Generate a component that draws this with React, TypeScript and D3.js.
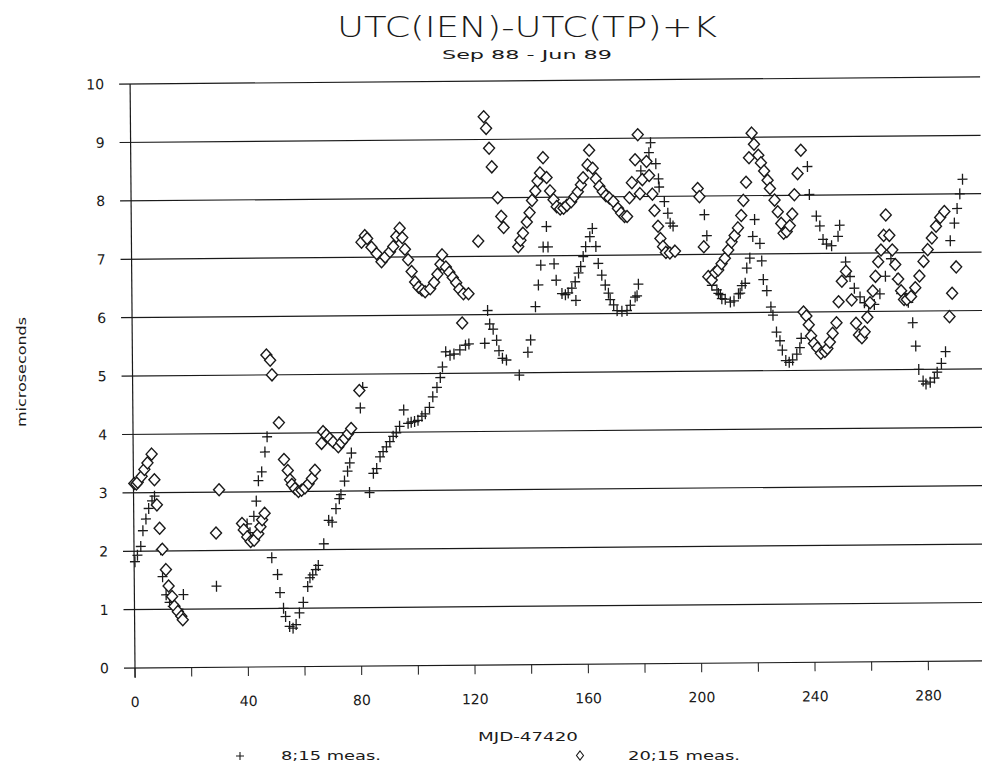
import React from 'react';
import { scaleLinear, range } from 'd3';

// 8:15 measurements (plus markers): day offset from MJD 47420, microseconds
const plusDays = [
  0.3, 1.2, 2.4, 3.2, 4.3, 5.3, 6.5, 7.4, 9.4, 10, 11.2, 12.4, 13.5, 14.5, 15.5, 17.3,
  29, 40, 41, 42, 42.4, 43.3, 44.1, 45.3, 46.5, 47.3,
  48.6, 50.6, 51.4, 52.6, 53.3, 54.7, 55.9, 57, 58.2, 59.6, 61.2, 62, 63, 64.1, 65,
  67, 68.8, 70, 71.4, 72.6, 73.2, 74.5, 75.6, 76.4, 77, 80.3, 81.2,
  83.3, 84.7, 85.9, 87.1, 88.2, 89.4, 90.6, 91.8, 92.9, 94.1, 95.6, 97.1, 98.2, 99.4,
  100.6, 102, 103.2, 104.7, 105.9, 107.4, 108.6, 109.4, 110.6, 112.1, 113.5, 115.6, 117.6, 118.8,
  124.4, 125.5, 126.2, 127.4, 128.6, 129.4, 130.6, 132, 136.5, 139.6, 140.6,
  142.4, 143.5, 144.4, 145.3, 146.5, 147, 149.1, 149.8, 151.8, 153, 154, 155.3, 156.5, 156.7,
  157.7, 158.5, 159.4, 160.3, 161.8, 162.7, 163.9, 164.7, 165.9, 167.1, 168.2, 168.8, 170,
  171.2, 172.9, 174.7, 175.9, 177.6, 178.3, 178.8,
  180, 182.9, 183.5, 185.3, 186.2, 186.4, 188.2, 189.4, 190.2, 191.2,
  202.3, 203.1, 204.7, 206.5, 207, 207.7, 208.2, 209.4, 211.2, 212.5, 214.1, 214.7, 215.3,
  216.5, 217.1, 218.2, 219.3, 220, 221.8, 222.4, 222.9, 224.1, 225.5, 226.2, 227.4, 228.6,
  229.4, 230.6, 231.8, 233, 234.5, 235.6, 236.1,
  238.8, 239.4, 241.8, 243, 244.1, 245.3, 247.1, 249.4, 250,
  252, 253.5, 255, 257, 258.5, 260, 262, 264, 266, 268, 270, 271.5, 272.5, 274,
  275.5, 276.5, 277.5, 279, 280, 281.5, 283, 284, 285.5, 287, 289, 290.5, 291.5, 292.5, 293.5,
];
const plusValues = [
  1.82, 1.93, 2.08, 2.35, 2.55, 2.73, 2.86, 2.94, 2.02, 1.56, 1.25, 1.12, 1.05, 1.0, 1.0, 1.25,
  1.39, 2.45, 2.3, 2.2, 2.58, 2.84, 3.19, 3.34, 3.68, 3.94,
  1.87, 1.58, 1.27, 1.0, 0.86, 0.69, 0.66, 0.72, 0.92, 1.1, 1.37, 1.52, 1.57, 1.66, 1.73,
  2.1, 2.5, 2.47, 2.7, 2.87, 2.94, 3.17, 3.34, 3.48, 3.65, 4.42, 4.77,
  2.97, 3.3, 3.38, 3.58, 3.67, 3.75, 3.84, 3.93, 3.99, 4.1, 4.38, 4.15, 4.17, 4.18,
  4.2, 4.27, 4.31, 4.42, 4.6, 4.76, 4.93, 5.11, 5.37, 5.31, 5.33, 5.4, 5.48, 5.5,
  5.51, 6.07, 5.84, 5.75, 5.56, 5.38, 5.25, 5.22, 4.96, 5.35, 5.56,
  6.13, 6.5, 6.84, 7.15, 7.5, 7.15, 6.86, 6.58, 6.35, 6.33, 6.36, 6.44, 6.55, 6.23,
  6.7, 6.81, 6.98, 7.15, 7.32, 7.46, 7.15, 6.86, 6.66, 6.49, 6.35, 6.24, 6.15,
  6.05, 6.04, 6.05, 6.14, 6.28, 6.3, 6.5,
  8.44, 8.75, 8.92, 8.56, 8.3, 8.16, 7.91, 7.71, 7.54, 7.49,
  7.68, 7.32, 6.47, 6.39, 6.33, 6.31, 6.24, 6.23, 6.18, 6.2, 6.32, 6.33, 6.46,
  6.5, 6.76, 6.93, 7.3, 7.59, 7.18, 6.88, 6.56, 6.37, 6.09, 5.95, 5.66, 5.51,
  5.35, 5.17, 5.14, 5.18, 5.28, 5.39, 5.55,
  8.49, 8.01, 7.64, 7.47, 7.24, 7.16, 7.13, 7.29, 7.48,
  6.85, 6.6, 6.4, 6.25, 6.15, 6.1, 6.12, 6.3, 6.6, 6.9, 6.55, 6.3, 6.2, 6.15,
  5.8, 5.4, 5.0, 4.8, 4.75, 4.78, 4.85, 4.95, 5.1, 5.3, 7.2, 7.5, 7.75, 8.0, 8.25,
];

// 20:15 measurements (diamond markers)
const diamondDays = [
  0.3, 1.0, 1.5, 2.9, 3.9, 5, 6.5, 7.4, 8.2, 9.1, 10, 11.2, 12.1, 13.3, 14.1, 15.3, 16.5, 17,
  29, 30.2, 38.2, 38.8, 40, 41.2, 42.4, 43.9, 44.7, 45.3, 46.2, 47.3, 48.6, 49.2, 51.5,
  53.2, 54.5, 55.3, 55.9, 57, 58.2, 59.3, 60.5, 61.8, 63, 64.1,
  66.5, 67.1, 68.2, 69.4, 70.6, 72.4, 73.5, 74.7, 75.9, 77, 80,
  81.2, 82.4, 83.2, 84.7, 86.5, 88.2, 89.5, 91.2, 92.4, 93.5, 94.7, 95.6, 96.5, 97.6, 98.8,
  100, 101.2, 102.4, 103.5, 105.3, 106.7, 107.9, 109, 109.6, 110.9, 112.1, 113.3, 114.5,
  115.6, 116.5, 117, 118.8, 122.4, 124.7, 125.5, 126.5, 127.4, 129.4, 130.6, 131.4,
  136.5, 137.3, 138.2, 139.6, 140.6, 141.5, 142.7, 143.5, 144.4, 145.5, 146.7, 147.9,
  149.1, 150.2, 151.4, 152.6, 153.8, 155.3, 156.5, 157.7, 158.8, 159.6, 161.2, 161.8,
  163, 164.1, 165.3, 166.5, 167.6, 168.8, 170.2, 171.8, 172.9, 174.1, 175,
  175.9, 176.8, 178, 179, 179.6, 180.5, 182, 182.9, 184, 184.7, 185.9, 186.7, 187.6,
  188.6, 190, 191.8, 200, 200.6, 202, 203.5, 204.7, 205.9, 207, 208.2, 209.4, 210.6,
  211.8, 212.9, 214.1, 215.3, 216.1, 217.1, 218.2, 219.2, 220, 221.5, 222.4, 223.5,
  224.7, 225.5, 227.1, 228.2, 229.4, 230.2, 231.3, 232.4, 233.3, 234.1, 235.3, 236.5,
  237, 238, 238.8, 239.6, 240.6, 241.8, 243, 244.4, 245.3, 246.2, 247.2, 248.6, 249.4,
  250.6, 252.1, 254, 255.5, 256.5, 257.5, 258.5, 259.5, 260.5, 261.5, 262.5, 263.5,
  264.5, 265.5, 266.3, 267.5, 268.5, 269.5, 270.5, 271.5, 272.5, 273.5, 275, 276.5,
  278, 279.5, 281, 282.5, 284, 285.5, 287, 288.5, 289.5, 291,
];
const diamondValues = [
  3.16, 3.15, 3.18, 3.28, 3.4, 3.51, 3.66, 3.22, 2.79, 2.39, 2.03, 1.68, 1.4, 1.22, 1.05, 0.96, 0.88, 0.82,
  2.3, 3.04, 2.46, 2.35, 2.23, 2.15, 2.17, 2.28, 2.4, 2.52, 2.63, 5.34, 5.25, 5.0, 4.18,
  3.55, 3.36, 3.2, 3.12, 3.05, 3.0, 3.02, 3.06, 3.13, 3.22, 3.36,
  3.82, 4.02, 3.96, 3.9, 3.84, 3.76, 3.83, 3.9, 3.98, 4.07, 4.72,
  7.26, 7.37, 7.32, 7.17, 7.06, 6.92, 7.0, 7.09, 7.18, 7.35, 7.49, 7.33, 7.13, 6.95, 6.75,
  6.57, 6.48, 6.43, 6.4, 6.45, 6.56, 6.7, 6.87, 7.03, 6.82, 6.73, 6.64, 6.55,
  6.44, 5.86, 6.36, 6.36, 7.26, 9.39, 9.19, 8.85, 8.53, 8.0, 7.68, 7.49,
  7.16, 7.27, 7.39, 7.58, 7.74, 7.95, 8.11, 8.28, 8.42, 8.68, 8.34, 8.11,
  7.96, 7.84, 7.8, 7.81, 7.86, 7.92, 8.01, 8.09, 8.21, 8.33, 8.55, 8.8,
  8.49, 8.31, 8.18, 8.09, 8.02, 7.98, 7.92, 7.8, 7.72, 7.66, 7.66,
  7.98, 8.24, 8.63, 9.06, 8.05, 8.29, 8.6, 8.36, 8.04, 7.76, 7.49, 7.28, 7.14,
  7.04, 7.03, 7.06, 8.13, 7.99, 7.13, 6.62, 6.56, 6.69, 6.73, 6.84, 6.93, 7.07,
  7.21, 7.32, 7.45, 7.66, 7.92, 8.23, 8.65, 9.07, 8.88, 8.69, 8.56, 8.42,
  8.26, 8.12, 7.92, 7.72, 7.52, 7.35, 7.38, 7.48, 7.68, 8.01, 8.37, 8.77,
  6.0, 5.93, 5.78, 5.59, 5.46, 5.38, 5.29, 5.32, 5.37, 5.48, 5.63, 5.81, 6.17,
  6.52, 6.69, 6.2, 5.8, 5.6, 5.55, 5.65, 5.9, 6.15, 6.35, 6.6, 6.85,
  7.05, 7.3, 7.65, 7.3, 7.05, 6.8, 6.55, 6.35, 6.2, 6.2, 6.25, 6.4,
  6.6, 6.85, 7.05, 7.25, 7.45, 7.6, 7.7, 5.9, 6.3, 6.75,
];

const yTicks = range(0, 11);
const xMinorTicks = range(0, 301, 20);
const xLabels = range(0, 281, 40);

const width = 982;
const height = 765;
const ink = '#1a1a1a';
const font = "'DejaVu Sans', sans-serif";

const App = () => {
  const x = scaleLinear().domain([0, 300]).range([135, 985]);
  const y = scaleLinear().domain([0, 10]).range([668, 84]);

  const plusPts = plusDays.map((d, i) => [x(d), y(plusValues[i])]);
  const diamondPts = diamondDays.map((d, i) => [x(d), y(diamondValues[i])]);

  return (
    <svg width={width} height={height} style={{ position: 'absolute', left: 0, top: 0, background: '#fff' }}>
      <rect width={width} height={height} fill="#fff" />
      <text x={527} y={37} textAnchor="middle" fontFamily={font} fontWeight={200} fontSize={29}
        textLength={380} lengthAdjust="spacingAndGlyphs" fill={ink}>UTC(IEN)-UTC(TP)+K</text>
      <text x={527} y={59} textAnchor="middle" fontFamily={font} fontSize={12}
        textLength={170} lengthAdjust="spacingAndGlyphs" fill={ink}>Sep 88 - Jun 89</text>

      <g transform="rotate(-0.48, 135, 668)">
        {yTicks.map(t => (
          <g key={'g' + t}>
            <line x1={124} x2={985} y1={y(t)} y2={y(t)} stroke={ink} strokeWidth={1.2} />
            <text x={109} y={y(t) + 5} textAnchor="end" fontFamily={font} fontSize={14} fill={ink}>{t}</text>
          </g>
        ))}
        <line x1={x(0)} x2={x(0)} y1={y(0) + 10} y2={y(10)} stroke={ink} strokeWidth={1.2} />
        {xMinorTicks.map(t => (
          <line key={'xt' + t} x1={x(t)} x2={x(t)} y1={y(0)} y2={y(0) + 9} stroke={ink} strokeWidth={1} />
        ))}
        {xLabels.map(t => (
          <text key={'xl' + t} x={x(t)} y={y(0) + 39} textAnchor="middle" fontFamily={font} fontSize={14} fill={ink}>{t}</text>
        ))}

        {plusPts.map(([px, py], i) => (
          <path key={'p' + i} d={`M${px - 5},${py}H${px + 5}M${px},${py - 5.5}V${py + 5.5}`}
            stroke={ink} strokeWidth={1.3} fill="none" />
        ))}
        {diamondPts.map(([px, py], i) => (
          <path key={'d' + i} d={`M${px},${py - 6}L${px + 5.5},${py}L${px},${py + 6}L${px - 5.5},${py}Z`}
            stroke={ink} strokeWidth={1.4} fill="#fff" />
        ))}
      </g>

      <text transform="translate(26, 372) rotate(-90)" textAnchor="middle" fontFamily={font} fontSize={12}
        textLength={110} lengthAdjust="spacingAndGlyphs" fill={ink}>microseconds</text>
      <text x={528} y={741} textAnchor="middle" fontFamily={font} fontSize={13}
        textLength={100} lengthAdjust="spacingAndGlyphs" fill={ink}>MJD-47420</text>

      <path d="M236,756H244M240,752V760" stroke={ink} strokeWidth={1.1} />
      <text x={281} y={760} fontFamily={font} fontSize={13}
        textLength={100} lengthAdjust="spacingAndGlyphs" fill={ink}>8;15 meas.</text>
      <path d="M580,751L583.5,755.5L580,760L576.5,755.5Z" stroke={ink} strokeWidth={1.1} fill="none" />
      <text x={628} y={760} fontFamily={font} fontSize={13}
        textLength={112} lengthAdjust="spacingAndGlyphs" fill={ink}>20;15 meas.</text>
    </svg>
  );
};

export default App;
